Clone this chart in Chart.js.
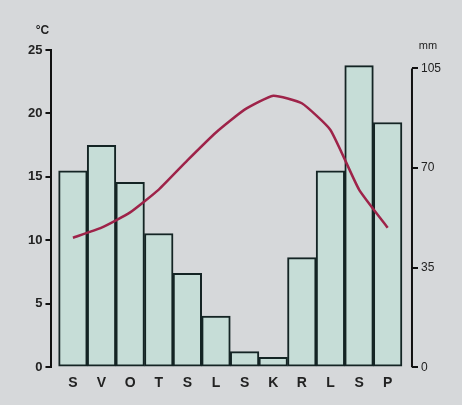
<!DOCTYPE html>
<html>
<head>
<meta charset="UTF-8">
<title>Klimadiagram</title>
<script src="https://cdn.jsdelivr.net/npm/chart.js"></script>
<style>
  body { margin: 0; background: #d6d8da; }
</style>
</head>
<body>
	<canvas id="myChart" width="462" height="405"></canvas>

	<script>
		// mjeseci, padaline (mm), temperatura (°C)
		const months = ['S', 'V', 'O', 'T', 'S', 'L', 'S', 'K', 'R', 'L', 'S', 'P'];
		const precip = [69, 78, 65, 47, 33, 18, 5.5, 3.5, 38.5, 69, 106, 86];
		const temp = [10.2, 11.0, 12.2, 14.0, 16.3, 18.5, 20.3, 21.4, 20.8, 18.7, 14.0, 11.0];
		const tempTicks = [0, 5, 10, 15, 20, 25];
		const precipTicks = [0, 35, 70, 105];

		const axisFont = { family: 'Liberation Sans, Arial, sans-serif', size: 13, weight: 'bold' };

		// naslovi osi i desna os
		const axisExtras = {
			id: 'axisExtras',
			afterDraw(chart) {
				const ctx = chart.ctx;
				const y = chart.scales.y;
				const y1 = chart.scales.y1;
				ctx.save();
				ctx.strokeStyle = '#111';
				ctx.lineWidth = 2;
				ctx.beginPath();
				ctx.moveTo(y1.left, y1.getPixelForValue(105));
				ctx.lineTo(y1.left, y1.getPixelForValue(0));
				ctx.stroke();

				ctx.fillStyle = '#222';
				ctx.font = 'bold 12px Liberation Sans, Arial, sans-serif';
				ctx.textAlign = 'center';
				ctx.fillText('°C', y.right - 9, y.top - 16);
				ctx.font = '11px Liberation Sans, Arial, sans-serif';
				ctx.fillText('mm', y1.left + 16, y1.getPixelForValue(105) - 19);
				ctx.restore();
			}
		};

		new Chart('myChart', {
			data: {
				datasets: [{
					type: 'line',
					data: temp.map((v, i) => ({ x: i, y: v })),
					yAxisID: 'y',
					borderColor: '#9e2349',
					borderWidth: 2.5,
					pointRadius: 0,
					tension: 0.15,
					order: 0
				}, {
					type: 'bar',
					data: precip.map((v, i) => ({ x: i, y: v })),
					yAxisID: 'y1',
					backgroundColor: '#c6ddd7',
					borderColor: '#142424',
					borderWidth: 2,
					borderSkipped: false,
					barPercentage: 1,
					categoryPercentage: 1,
					order: 1
				}]
			},
			options: {
				responsive: false,
				animation: false,
				layout: { padding: { top: 50, left: 25, right: 18, bottom: 13 } },
				plugins: { legend: { display: false }, tooltip: { enabled: false } },
				scales: {
					x: {
						type: 'linear',
						offset: false,
						min: -0.75,
						max: 11.85,
						border: { display: false },
						grid: { display: false },
						afterBuildTicks: (s) => { s.ticks = months.map((m, i) => ({ value: i })); },
						ticks: {
							callback: (v) => months[v],
							color: '#222',
							font: { family: 'Liberation Sans, Arial, sans-serif', size: 14, weight: 'bold' },
							padding: 0,
							maxRotation: 0,
							autoSkip: false
						}
					},
					y: {
						position: 'left',
						min: 0,
						max: 25,
						afterBuildTicks: (s) => { s.ticks = tempTicks.map(v => ({ value: v })); },
						border: { display: true, color: '#111', width: 2 },
						grid: { drawOnChartArea: false, drawTicks: true, tickLength: 6, color: '#111', lineWidth: 2 },
						ticks: { color: '#222', font: axisFont, padding: 3 }
					},
					y1: {
						position: 'right',
						min: 0,
						max: 111.5,
						afterBuildTicks: (s) => { s.ticks = precipTicks.map(v => ({ value: v })); },
						border: { display: false },
						grid: { drawOnChartArea: false, drawTicks: true, tickLength: 6, color: '#111', lineWidth: 2 },
						ticks: { color: '#222', font: { family: 'Liberation Sans, Arial, sans-serif', size: 12 }, padding: 3 }
					}
				}
			},
			plugins: [axisExtras]
		});
	</script>
</body>
</html>
